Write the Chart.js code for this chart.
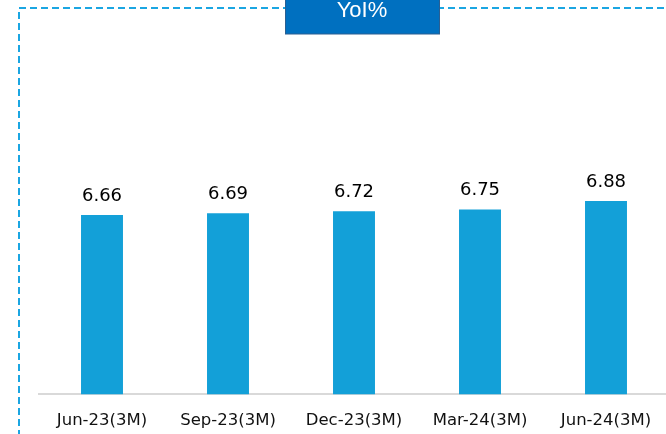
<!DOCTYPE html>
<html>
<head>
<meta charset="utf-8">
<script src="https://cdn.jsdelivr.net/npm/chart.js@4.4.0/dist/chart.umd.min.js"></script>
<style>
    html, body { margin: 0; padding: 0; background: #fff; overflow: hidden; }
    #wrap { position: relative; width: 672px; height: 456px; }
</style>
</head>
<body>
<div id="wrap"><canvas id="chart"></canvas></div>
<script>
// data
const categories = ['Jun-23(3M)', 'Sep-23(3M)', 'Dec-23(3M)', 'Mar-24(3M)', 'Jun-24(3M)'];
const yoyValues = [6.66, 6.69, 6.72, 6.75, 6.88];
const titleText = 'YoI%';

const BAR_COLOR = '#13a0d8';
const FONT = "'DejaVu Sans', sans-serif";

// dashed frame + title tab behind the chart
const framePlugin = {
    id: 'frame',
    beforeDraw(chart) {
        const ctx = chart.ctx;
        ctx.save();
        ctx.strokeStyle = '#1ba6e2';
        ctx.lineWidth = 2;
        ctx.setLineDash([7, 4]);
        ctx.beginPath();
        ctx.moveTo(19, 470);
        ctx.lineTo(19, 8);
        ctx.lineTo(680, 8);
        ctx.stroke();
        ctx.setLineDash([]);

        // title tab
        ctx.fillStyle = '#0070c0';
        ctx.fillRect(285, -4, 155, 38);
        ctx.strokeStyle = '#2a5f92';
        ctx.lineWidth = 1;
        ctx.strokeRect(285.5, -4, 154, 38);
        ctx.fillStyle = '#ffffff';
        ctx.font = "22px 'Liberation Sans', Arial, sans-serif";
        ctx.textAlign = 'center';
        ctx.textBaseline = 'alphabetic';
        ctx.fillText(titleText, 362, 17);
        ctx.restore();
    }
};

// value labels above bars
const valueLabels = {
    id: 'valueLabels',
    afterDatasetsDraw(chart) {
        const ctx = chart.ctx;
        const meta = chart.getDatasetMeta(0);
        ctx.save();
        ctx.fillStyle = '#000';
        ctx.font = '18px ' + FONT;
        ctx.textAlign = 'center';
        ctx.textBaseline = 'middle';
        meta.data.forEach((bar, i) => {
            ctx.fillText(yoyValues[i].toFixed(2), bar.x, bar.y - 19);
        });
        ctx.restore();
    }
};

new Chart(document.getElementById('chart'), {
    type: 'bar',
    data: {
        labels: categories,
        datasets: [{
            data: yoyValues,
            backgroundColor: BAR_COLOR,
            borderWidth: 0,
            categoryPercentage: 1,
            barPercentage: 0.333
        }]
    },
    options: {
        responsive: true,
        maintainAspectRatio: false,
        animation: false,
        layout: {
            padding: { left: 39, right: 3, top: 66, bottom: 8 }
        },
        plugins: {
            legend: { display: false },
            tooltip: { enabled: false }
        },
        scales: {
            x: {
                grid: { display: false, drawTicks: false },
                border: { display: true, color: '#d9d9d9', width: 2 },
                ticks: {
                    color: '#111',
                    padding: 17,
                    font: { family: FONT, size: 16.5 },
                    maxRotation: 0,
                    autoSkip: false
                }
            },
            y: {
                display: false,
                min: 3.85,
                max: 9
            }
        }
    },
    plugins: [framePlugin, valueLabels]
});
</script>
</body>
</html>
